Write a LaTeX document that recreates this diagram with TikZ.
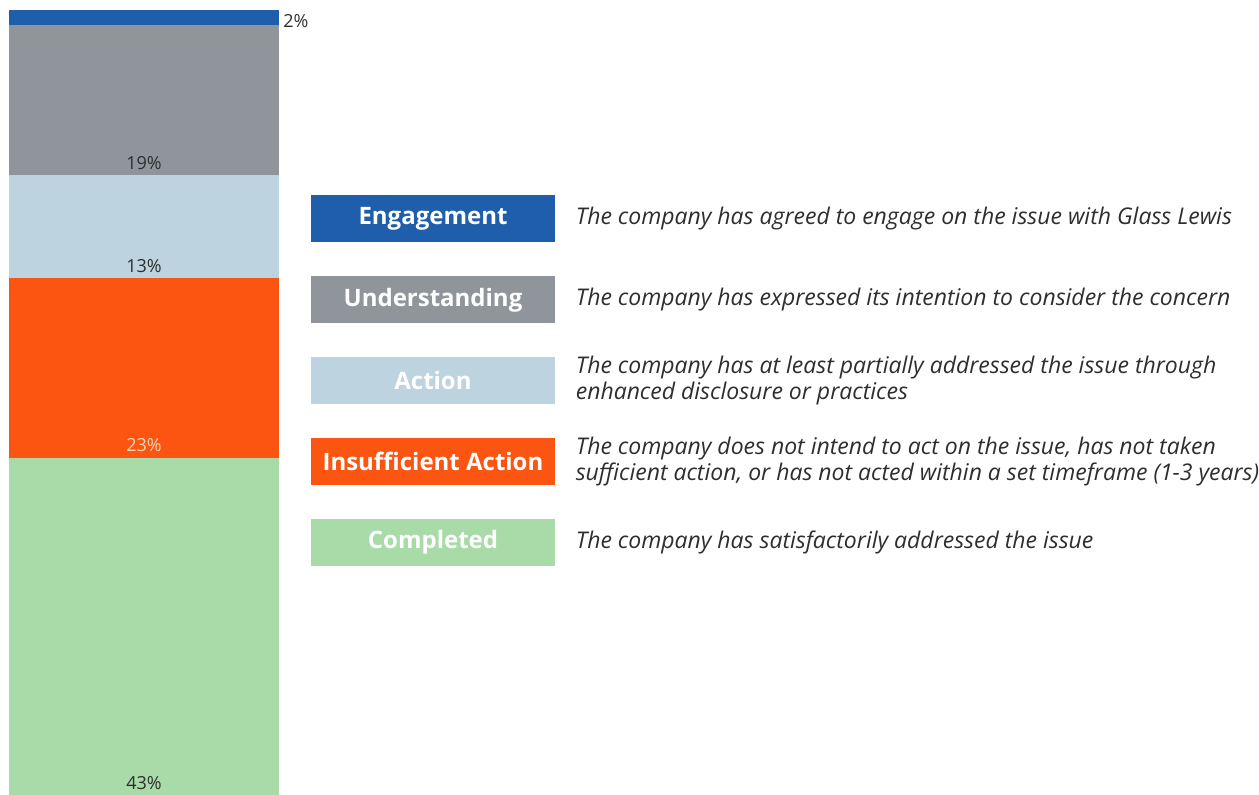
\documentclass[tikz,border=0pt]{standalone}
\usepackage{fontspec}
\setsansfont{Open Sans}
\usetikzlibrary{positioning}
\definecolor{engblue}{HTML}{1F5EAB}
\definecolor{undgray}{HTML}{8F959A}
\definecolor{actblue}{HTML}{BDD4E0}
\definecolor{insorange}{HTML}{FC5411}
\definecolor{compgreen}{HTML}{A9DBA8}
\definecolor{txtgray}{HTML}{2E2E2E}
\definecolor{peach}{HTML}{FFD6B5}
\tikzset{
  pct/.style={anchor=base,inner sep=0pt,text=txtgray,font=\sffamily\fontsize{9}{10}\selectfont},
  legbox/.style={minimum width=122pt,minimum height=23.5pt,inner sep=0pt,text=white,
    font=\sffamily\bfseries\fontsize{12}{14}\selectfont},
  desc/.style={right=10pt of #1,inner sep=0pt,align=left,text=txtgray,
    font=\sffamily\itshape\fontsize{11.5}{13}\selectfont}
}

\begin{document}
\begin{tikzpicture}[x=0.5pt,y=-0.5pt]
    \useasboundingbox (0,0) rectangle (1259,795);
    % stacked bar
    \fill[engblue]   (9,10)  rectangle (279,25);
    \fill[undgray]   (9,25)  rectangle (279,175);
    \fill[actblue]   (9,175) rectangle (279,278);
    \fill[insorange] (9,278) rectangle (279,458);
    \fill[compgreen] (9,458) rectangle (279,795);
    \node[pct,anchor=base west] (p2) at (283,28) {2\%};
    \node[pct] (p19) at (144,170) {19\%};
    \node[pct] (p13) at (144,273) {13\%};
    \node[pct,text=peach] (p23) at (144,452) {23\%};
    \node[pct] (p43) at (144,790) {43\%};
    % legend
    \node[legbox,fill=engblue] (eng) at (433,219) {Engagement};
    \node[legbox,fill=undgray,below=16.5pt of eng] (und) {Understanding};
    \node[legbox,fill=actblue,below=16.5pt of und] (act) {Action};
    \node[legbox,fill=insorange,below=16.5pt of act] (ins) {Insufficient Action};
    \node[legbox,fill=compgreen,below=16.5pt of ins] (comp) {Completed};
    \node[desc=eng] (engtxt) {The company has agreed to engage on the issue with Glass Lewis};
    \node[desc=und] (undtxt) {The company has expressed its intention to consider the concern};
    \node[desc=act] (acttxt) {The company has at least partially addressed the issue through\\enhanced disclosure or practices};
    \node[desc=ins] (instxt) {The company does not intend to act on the issue, has not taken\\sufficient action, or has not acted within a set timeframe (1-3 years)};
    \node[desc=comp] (comptxt) {The company has satisfactorily addressed the issue};
\end{tikzpicture}
\end{document}
